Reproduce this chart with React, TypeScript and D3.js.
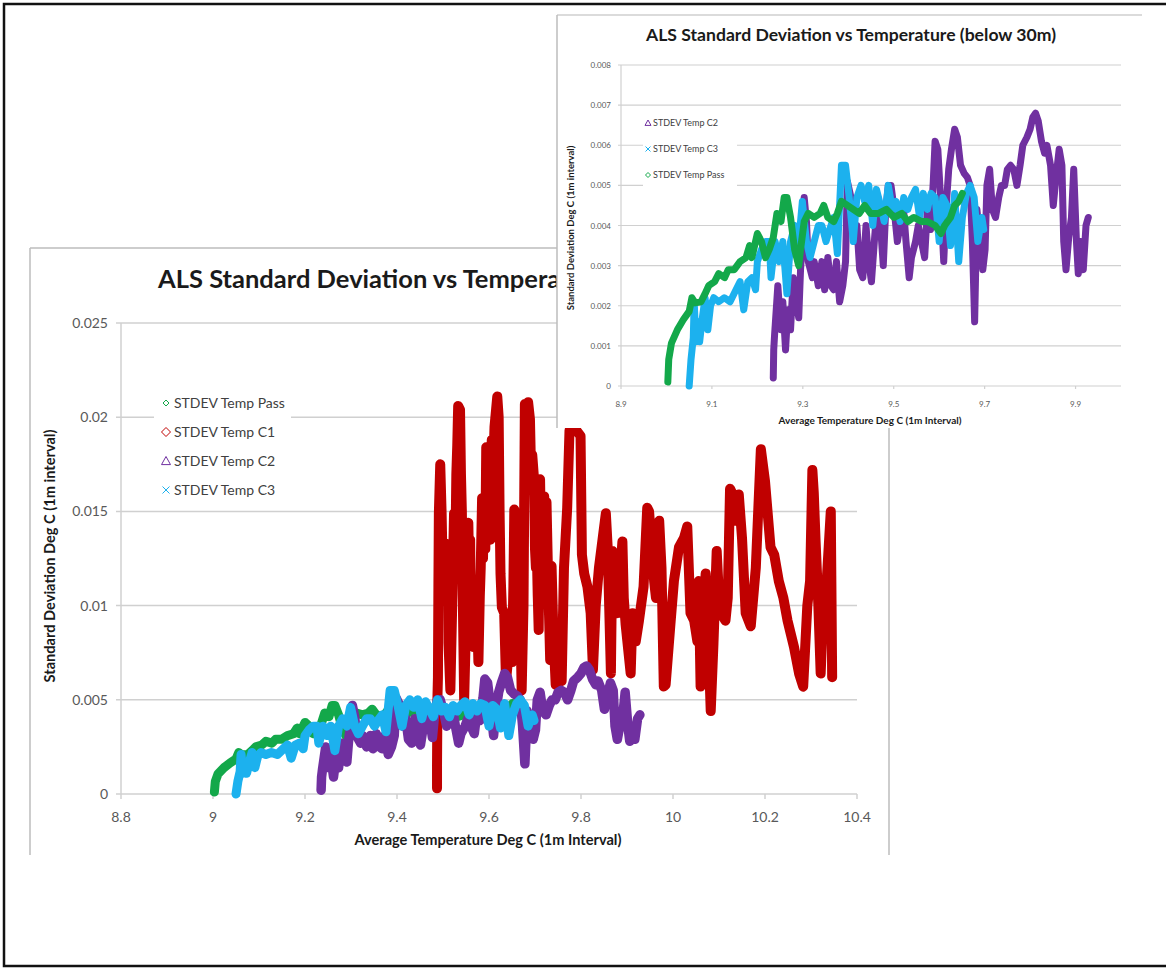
import React from "react";
import * as d3 from "d3";

type Pt = [number, number];

// STDEV Temp Pass (green)
const passData: Pt[] = [
  [9.003, 0.0001], [9.005, 0.00066], [9.011, 0.00107], [9.024, 0.0014], [9.037, 0.00165],
  [9.05, 0.00186], [9.056, 0.0022], [9.063, 0.00207], [9.076, 0.0021], [9.085, 0.0023],
  [9.093, 0.0025], [9.106, 0.0026], [9.115, 0.0028], [9.128, 0.0027], [9.136, 0.0029],
  [9.149, 0.0029], [9.162, 0.0031], [9.175, 0.0032], [9.183, 0.0035], [9.188, 0.0032],
  [9.196, 0.0036], [9.2, 0.0038], [9.209, 0.0036], [9.218, 0.0032], [9.226, 0.0034],
  [9.235, 0.0037], [9.239, 0.004], [9.243, 0.0043], [9.252, 0.0041], [9.259, 0.0047],
  [9.265, 0.0047], [9.273, 0.0042], [9.282, 0.0034], [9.291, 0.003], [9.295, 0.0034],
  [9.303, 0.0041], [9.312, 0.0043], [9.325, 0.0042], [9.338, 0.0043], [9.346, 0.0045],
  [9.355, 0.0042], [9.368, 0.0041], [9.376, 0.0043], [9.385, 0.0046], [9.398, 0.0045],
  [9.411, 0.0044], [9.424, 0.0043], [9.436, 0.0045], [9.449, 0.0043], [9.467, 0.0043],
  [9.484, 0.0044], [9.501, 0.0042], [9.518, 0.0043], [9.531, 0.0041], [9.544, 0.0042],
  [9.561, 0.0041], [9.574, 0.0041], [9.591, 0.004], [9.604, 0.0038], [9.612, 0.004],
  [9.625, 0.0042], [9.634, 0.0045], [9.643, 0.0046], [9.651, 0.0048],
];

// STDEV Temp C1 (red)
const c1Data: Pt[] = [
  [9.487, 0.0003], [9.487, 0.0015], [9.488, 0.0052], [9.489, 0.0062], [9.49, 0.011],
  [9.491, 0.0149], [9.494, 0.0175], [9.497, 0.0149], [9.5, 0.011], [9.502, 0.0128],
  [9.504, 0.0108], [9.506, 0.0133], [9.509, 0.0112], [9.511, 0.0128], [9.512, 0.008],
  [9.516, 0.0055], [9.52, 0.01], [9.524, 0.0149], [9.527, 0.013], [9.529, 0.017],
  [9.531, 0.0185], [9.533, 0.0206], [9.537, 0.0204], [9.539, 0.017], [9.541, 0.015],
  [9.543, 0.0105], [9.546, 0.005], [9.549, 0.008], [9.551, 0.0137], [9.553, 0.0112],
  [9.555, 0.0144], [9.557, 0.0118], [9.559, 0.0135], [9.56, 0.011], [9.562, 0.009],
  [9.566, 0.0078], [9.57, 0.01], [9.573, 0.0107], [9.577, 0.007], [9.58, 0.0105],
  [9.582, 0.012], [9.585, 0.0157], [9.587, 0.0125], [9.588, 0.014], [9.59, 0.0153],
  [9.592, 0.013], [9.594, 0.0184], [9.597, 0.016], [9.6, 0.0172], [9.603, 0.0135],
  [9.606, 0.0188], [9.61, 0.018], [9.612, 0.0195], [9.618, 0.0211], [9.621, 0.02],
  [9.623, 0.015], [9.625, 0.0117], [9.628, 0.0099], [9.633, 0.0096], [9.637, 0.006],
  [9.642, 0.0073], [9.646, 0.0085], [9.65, 0.007], [9.653, 0.011], [9.655, 0.0151],
  [9.658, 0.013], [9.66, 0.0142], [9.664, 0.0114], [9.667, 0.011], [9.671, 0.0055],
  [9.675, 0.01], [9.678, 0.0207], [9.682, 0.019], [9.685, 0.0208], [9.689, 0.0199],
  [9.692, 0.0165], [9.694, 0.018], [9.698, 0.0167], [9.7, 0.013], [9.702, 0.012],
  [9.704, 0.0128], [9.706, 0.0105], [9.708, 0.0087], [9.711, 0.0167], [9.713, 0.0135],
  [9.715, 0.0153], [9.718, 0.0125], [9.72, 0.0158], [9.722, 0.013], [9.725, 0.0155],
  [9.728, 0.012], [9.73, 0.01], [9.733, 0.0071], [9.736, 0.0121], [9.74, 0.0085],
  [9.745, 0.0058], [9.749, 0.0073],
  [9.758, 0.006], [9.763, 0.012], [9.77, 0.0152], [9.775, 0.0193], [9.79, 0.0193],
  [9.799, 0.019], [9.802, 0.0127], [9.807, 0.0117], [9.814, 0.011], [9.821, 0.0096],
  [9.826, 0.0066], [9.832, 0.01], [9.839, 0.012], [9.854, 0.0149], [9.858, 0.0131],
  [9.865, 0.0064], [9.868, 0.0129], [9.874, 0.011], [9.879, 0.0096], [9.89, 0.0134],
  [9.893, 0.0104], [9.897, 0.009], [9.908, 0.0064], [9.912, 0.0096], [9.919, 0.0081],
  [9.926, 0.0092], [9.936, 0.011], [9.944, 0.0152], [9.948, 0.015], [9.959, 0.0113],
  [9.963, 0.0104], [9.97, 0.0145], [9.975, 0.012], [9.98, 0.0057], [9.984, 0.0058],
  [9.995, 0.0092], [10.002, 0.0113], [10.013, 0.0131], [10.024, 0.0136], [10.031, 0.0142],
  [10.038, 0.0096], [10.046, 0.0092], [10.053, 0.0081], [10.056, 0.0113], [10.06, 0.0057],
  [10.065, 0.009], [10.071, 0.0117], [10.075, 0.0096], [10.082, 0.0044], [10.088, 0.008],
  [10.095, 0.0129], [10.1, 0.0104], [10.104, 0.0096], [10.114, 0.0092], [10.119, 0.0104],
  [10.124, 0.0162], [10.13, 0.0159], [10.136, 0.0145], [10.143, 0.0159], [10.15, 0.0136],
  [10.158, 0.0096], [10.169, 0.0089], [10.18, 0.012], [10.191, 0.0183], [10.2, 0.0166],
  [10.212, 0.0131], [10.22, 0.0127], [10.23, 0.0113], [10.24, 0.0104], [10.249, 0.0092],
  [10.263, 0.0078], [10.274, 0.0064], [10.283, 0.0057], [10.292, 0.01], [10.298, 0.0113],
  [10.303, 0.0172], [10.306, 0.016], [10.31, 0.0134], [10.316, 0.01], [10.321, 0.0064],
  [10.327, 0.01], [10.332, 0.0104], [10.343, 0.015], [10.346, 0.0062],
];

// STDEV Temp C2 (purple)
const c2Data: Pt[] = [
  [9.235, 0.0002], [9.236, 0.0009], [9.238, 0.0013], [9.245, 0.0025], [9.252, 0.0014],
  [9.256, 0.0021], [9.262, 0.0009], [9.267, 0.0019], [9.273, 0.0014], [9.279, 0.0027],
  [9.286, 0.0021], [9.291, 0.0017], [9.295, 0.0029], [9.299, 0.0036], [9.303, 0.0047],
  [9.308, 0.0041], [9.312, 0.0031], [9.321, 0.0027], [9.325, 0.0031], [9.334, 0.0025],
  [9.342, 0.0031], [9.348, 0.0024], [9.355, 0.0032], [9.362, 0.0025], [9.368, 0.0024],
  [9.374, 0.0031], [9.381, 0.0021], [9.388, 0.0025], [9.394, 0.0031], [9.398, 0.0051],
  [9.406, 0.0047], [9.413, 0.0036], [9.419, 0.004], [9.425, 0.0029], [9.432, 0.0027],
  [9.439, 0.004], [9.445, 0.0031], [9.451, 0.0026], [9.458, 0.0037], [9.465, 0.0047],
  [9.471, 0.004], [9.477, 0.003], [9.482, 0.0043], [9.488, 0.005], [9.494, 0.005],
  [9.501, 0.0044], [9.508, 0.0036], [9.514, 0.004], [9.521, 0.0045], [9.527, 0.0036],
  [9.534, 0.0027], [9.539, 0.0032], [9.548, 0.0036], [9.554, 0.004], [9.561, 0.0036],
  [9.568, 0.0032], [9.574, 0.0044], [9.581, 0.0039], [9.587, 0.0051], [9.591, 0.0061],
  [9.597, 0.0059], [9.604, 0.0045], [9.61, 0.0031], [9.615, 0.0044], [9.621, 0.0054],
  [9.627, 0.0059], [9.634, 0.0064], [9.64, 0.0062], [9.647, 0.0055], [9.655, 0.0053],
  [9.662, 0.0052], [9.668, 0.005], [9.673, 0.0036], [9.678, 0.0016], [9.683, 0.0044],
  [9.69, 0.0036], [9.696, 0.0029], [9.701, 0.0034], [9.705, 0.005], [9.711, 0.0054],
  [9.717, 0.0044], [9.724, 0.0042], [9.731, 0.0047], [9.737, 0.005], [9.744, 0.005],
  [9.75, 0.0054], [9.757, 0.0055], [9.764, 0.0054], [9.771, 0.005], [9.778, 0.0055],
  [9.784, 0.006], [9.793, 0.0062], [9.8, 0.0064], [9.806, 0.0067], [9.812, 0.0068],
  [9.818, 0.0066], [9.825, 0.0061], [9.832, 0.0058], [9.837, 0.006], [9.845, 0.0055],
  [9.851, 0.0045], [9.857, 0.0052], [9.864, 0.0059], [9.87, 0.0055], [9.874, 0.0036],
  [9.879, 0.0029], [9.885, 0.0037], [9.891, 0.0042], [9.896, 0.0054], [9.902, 0.0036],
  [9.906, 0.0028], [9.911, 0.0036], [9.917, 0.0029], [9.923, 0.004], [9.928, 0.0042],
];

// STDEV Temp C3 (light blue)
const c3Data: Pt[] = [
  [9.05, 0.0], [9.054, 0.00066], [9.059, 0.0012], [9.061, 0.0021], [9.065, 0.0011],
  [9.07, 0.0016], [9.073, 0.0011], [9.079, 0.0017], [9.085, 0.0022], [9.091, 0.0014],
  [9.097, 0.002], [9.104, 0.0022], [9.115, 0.0021], [9.127, 0.0022], [9.14, 0.0021],
  [9.153, 0.0024], [9.162, 0.0026], [9.17, 0.0019], [9.179, 0.0026], [9.188, 0.0027],
  [9.196, 0.0024], [9.2, 0.0031], [9.209, 0.0034], [9.218, 0.0036], [9.226, 0.0036],
  [9.23, 0.0027], [9.239, 0.0036], [9.248, 0.0031], [9.256, 0.0036], [9.265, 0.0023],
  [9.273, 0.0036], [9.282, 0.004], [9.291, 0.0036], [9.299, 0.0046], [9.308, 0.0036],
  [9.316, 0.0032], [9.325, 0.0036], [9.334, 0.004], [9.342, 0.004], [9.351, 0.0036],
  [9.359, 0.0039], [9.368, 0.0042], [9.376, 0.0033], [9.385, 0.0055], [9.394, 0.0055],
  [9.402, 0.0047], [9.411, 0.0036], [9.419, 0.0047], [9.428, 0.005], [9.436, 0.0046],
  [9.445, 0.005], [9.454, 0.004], [9.462, 0.0049], [9.471, 0.0045], [9.479, 0.0041],
  [9.488, 0.005], [9.497, 0.0044], [9.505, 0.0046], [9.514, 0.0041], [9.522, 0.0047],
  [9.531, 0.0044], [9.539, 0.0047], [9.548, 0.0049], [9.557, 0.0042], [9.565, 0.0048],
  [9.574, 0.0044], [9.582, 0.0048], [9.591, 0.0047], [9.6, 0.0036], [9.608, 0.0047],
  [9.617, 0.0045], [9.625, 0.0035], [9.634, 0.0048], [9.643, 0.0031], [9.651, 0.0042],
  [9.66, 0.0048], [9.668, 0.005], [9.677, 0.0047], [9.685, 0.0036], [9.694, 0.0042],
  [9.698, 0.0039],
];

// axis ticks
const mainXTicks = [8.8, 9, 9.2, 9.4, 9.6, 9.8, 10, 10.2, 10.4];
const mainXLabels = ["8.8", "9", "9.2", "9.4", "9.6", "9.8", "10", "10.2", "10.4"];
const mainYTicks = [0, 0.005, 0.01, 0.015, 0.02, 0.025];
const mainYLabels = ["0", "0.005", "0.01", "0.015", "0.02", "0.025"];
const insetXTicks = [8.9, 9.1, 9.3, 9.5, 9.7, 9.9];
const insetXLabels = ["8.9", "9.1", "9.3", "9.5", "9.7", "9.9"];
const insetYTicks = [0, 0.001, 0.002, 0.003, 0.004, 0.005, 0.006, 0.007, 0.008];
const insetYLabels = ["0", "0.001", "0.002", "0.003", "0.004", "0.005", "0.006", "0.007", "0.008"];

const GREEN = "#13a84a";
const RED = "#c00000";
const PURPLE = "#7030a0";
const BLUE = "#1cb1ee";
const GRID = "#d0d0d0";
const TICK_TEXT = "#595959";
const FONT = "Lato, 'Open Sans', sans-serif";

type Marker = "diamond" | "triangle" | "cross";

function LegendMarker({ kind, cx, cy, size, color }: { kind: Marker; cx: number; cy: number; size: number; color: string }) {
  const s = size / 2;
  if (kind === "diamond")
    return <path d={`M${cx},${cy - s}L${cx + s},${cy}L${cx},${cy + s}L${cx - s},${cy}Z`} fill="none" stroke={color} strokeWidth={1} />;
  if (kind === "triangle")
    return <path d={`M${cx},${cy - s}L${cx + s},${cy + s * 0.8}L${cx - s},${cy + s * 0.8}Z`} fill="none" stroke={color} strokeWidth={1} />;
  return (
    <path d={`M${cx - s},${cy - s}L${cx + s},${cy + s}M${cx + s},${cy - s}L${cx - s},${cy + s}`} stroke={color} strokeWidth={1} />
  );
}

function MainChart() {
  const x = d3.scaleLinear().domain([8.8, 10.4]).range([121, 857]);
  const y = d3.scaleLinear().domain([0, 0.025]).range([794, 323]);
  const line = d3.line<Pt>().x((d) => x(d[0])).y((d) => y(d[1]));
  const [x0, x1] = x.range();
  const legend: { label: string; color: string; kind: Marker; size: number }[] = [
    { label: "STDEV Temp Pass", color: GREEN, kind: "diamond", size: 6 },
    { label: "STDEV Temp C1", color: RED, kind: "diamond", size: 9 },
    { label: "STDEV Temp C2", color: PURPLE, kind: "triangle", size: 9 },
    { label: "STDEV Temp C3", color: BLUE, kind: "cross", size: 7 },
  ];
  const series: { data: Pt[]; color: string; width: number }[] = [
    { data: passData, color: GREEN, width: 9 },
    { data: c1Data, color: RED, width: 10 },
    { data: c2Data, color: PURPLE, width: 9.5 },
    { data: c3Data, color: BLUE, width: 9 },
  ];
  return (
    <g>
      <defs>
        {/* the title runs under the overlapping panel, so it is cut at that panel's left edge */}
        <clipPath id="main-title-clip">
          <rect x={30} y={250} width={527} height={60} />
        </clipPath>
      </defs>
      <rect x={30} y={248} width={859} height={607} fill="#fff" />
      <line x1={30} y1={248} x2={889} y2={248} stroke="#bdbdbd" strokeWidth={1.5} />
      <line x1={30} y1={248} x2={30} y2={855} stroke="#bdbdbd" strokeWidth={1.5} />
      <line x1={889} y1={248} x2={889} y2={855} stroke="#bdbdbd" strokeWidth={1.5} />
      <g clipPath="url(#main-title-clip)">
        <text x={158} y={288} fontFamily={FONT} fontWeight={700} fontSize={25.5} fill="#1a1a1a">
          ALS Standard Deviation vs Temperature
        </text>
      </g>
      {mainYTicks.map((t, i) => (
        <g key={"gy" + i}>
          <line x1={x0 - 5} x2={x1} y1={y(t)} y2={y(t)} stroke={GRID} strokeWidth={1.5} />
          <text x={108} y={y(t) + 5} textAnchor="end" fontFamily={FONT} fontSize={14} fill={TICK_TEXT}>
            {mainYLabels[i]}
          </text>
        </g>
      ))}
      <line x1={x0} x2={x0} y1={y(0.025)} y2={y(0)} stroke={GRID} strokeWidth={1.5} />
      {mainXTicks.map((t, i) => (
        <g key={"gx" + i}>
          <line x1={x(t)} x2={x(t)} y1={y(0)} y2={y(0) + 5} stroke={GRID} strokeWidth={1.5} />
          <text x={x(t)} y={822} textAnchor="middle" fontFamily={FONT} fontSize={14} fill={TICK_TEXT}>
            {mainXLabels[i]}
          </text>
        </g>
      ))}
      <text x={488} y={845} textAnchor="middle" fontFamily={FONT} fontWeight={700} fontSize={14.6} fill="#1a1a1a">
        Average Temperature Deg C (1m Interval)
      </text>
      <text
        transform={`translate(55,556) rotate(-90)`}
        textAnchor="middle"
        fontFamily={FONT}
        fontWeight={700}
        fontSize={14.6}
        fill="#1a1a1a"
      >
        Standard Deviation Deg C (1m interval)
      </text>
      <rect x={154} y={390} width={137} height={112} fill="#fff" />
      {legend.map((l, i) => (
        <g key={"lg" + i}>
          <LegendMarker kind={l.kind} cx={166} cy={403 + i * 29} size={l.size} color={l.color} />
          <text x={174} y={408 + i * 29} fontFamily={FONT} fontSize={14} fill="#404040">
            {l.label}
          </text>
        </g>
      ))}
      {series.map((s, i) => (
        <path
          key={"s" + i}
          d={line(s.data) || ""}
          fill="none"
          stroke={s.color}
          strokeWidth={s.width}
          strokeLinejoin="round"
          strokeLinecap="round"
        />
      ))}
    </g>
  );
}

function InsetChart() {
  const x = d3.scaleLinear().domain([8.9, 10.0]).range([621, 1121]);
  const y = d3.scaleLinear().domain([0, 0.008]).range([386, 65]);
  const line = d3.line<Pt>().x((d) => x(d[0])).y((d) => y(d[1]));
  const [x0, x1] = x.range();
  const legend: { label: string; color: string; kind: Marker; size: number }[] = [
    { label: "STDEV Temp C2", color: PURPLE, kind: "triangle", size: 6 },
    { label: "STDEV Temp C3", color: BLUE, kind: "cross", size: 5 },
    { label: "STDEV Temp Pass", color: GREEN, kind: "diamond", size: 5 },
  ];
  const series: { data: Pt[]; color: string }[] = [
    { data: c2Data, color: PURPLE },
    { data: c3Data, color: BLUE },
    { data: passData, color: GREEN },
  ];
  return (
    <g>
      <rect x={557} y={15} width={585} height={413} fill="#fff" />
      <line x1={557} y1={15} x2={1142} y2={15} stroke="#cfcfcf" strokeWidth={1.5} />
      <line x1={557} y1={15} x2={557} y2={428} stroke="#bdbdbd" strokeWidth={1.5} />
      <text x={851} y={41} textAnchor="middle" fontFamily={FONT} fontWeight={700} fontSize={17.6} fill="#1a1a1a">
        ALS Standard Deviation vs Temperature (below 30m)
      </text>
      {insetYTicks.map((t, i) => (
        <g key={"gy" + i}>
          <line x1={x0 - 3} x2={x1} y1={y(t)} y2={y(t)} stroke={GRID} strokeWidth={1.2} />
          <text x={611} y={y(t) + 3} textAnchor="end" fontFamily={FONT} fontSize={8} fill={TICK_TEXT}>
            {insetYLabels[i]}
          </text>
        </g>
      ))}
      <line x1={x0} x2={x0} y1={y(0.008)} y2={y(0)} stroke={GRID} strokeWidth={1.2} />
      {insetXTicks.map((t, i) => (
        <g key={"gx" + i}>
          <line x1={x(t)} x2={x(t)} y1={y(0)} y2={y(0) + 3} stroke={GRID} strokeWidth={1.2} />
          <text x={x(t)} y={407} textAnchor="middle" fontFamily={FONT} fontSize={8} fill={TICK_TEXT}>
            {insetXLabels[i]}
          </text>
        </g>
      ))}
      <text x={870} y={424} textAnchor="middle" fontFamily={FONT} fontWeight={700} fontSize={10} fill="#1a1a1a">
        Average Temperature Deg C (1m Interval)
      </text>
      <text
        transform={`translate(574,228) rotate(-90)`}
        textAnchor="middle"
        fontFamily={FONT}
        fontWeight={700}
        fontSize={9.5}
        fill="#1a1a1a"
      >
        Standard Deviation Deg C (1m interval)
      </text>
      <rect x={643} y={108} width={94} height={82} fill="#fff" />
      {legend.map((l, i) => (
        <g key={"lg" + i}>
          <LegendMarker kind={l.kind} cx={648} cy={123 + i * 26} size={l.size} color={l.color} />
          <text x={653} y={126 + i * 26} fontFamily={FONT} fontSize={9} fill="#404040">
            {l.label}
          </text>
        </g>
      ))}
      {series.map((s, i) => (
        <path
          key={"s" + i}
          d={line(s.data) || ""}
          fill="none"
          stroke={s.color}
          strokeWidth={7}
          strokeLinejoin="round"
          strokeLinecap="round"
        />
      ))}
    </g>
  );
}

export default function App() {
  return (
    <svg
      width={1166}
      height={970}
      viewBox="0 0 1166 970"
      style={{ position: "absolute", left: 0, top: 0, background: "#fff" }}
    >
      <rect x={0} y={0} width={1166} height={970} fill="#fff" />
      <MainChart />
      <InsetChart />
      <rect x={4} y={4} width={1180} height={962} fill="none" stroke="#111" strokeWidth={2.5} />
    </svg>
  );
}
